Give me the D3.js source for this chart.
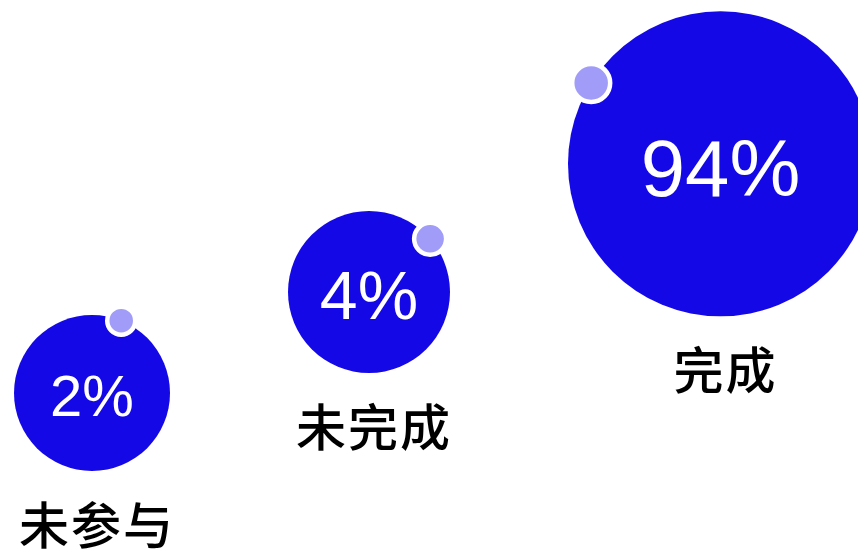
<!DOCTYPE html>
<html>
<head>
<meta charset="utf-8">
<script src="https://cdn.jsdelivr.net/npm/d3@7"></script>
<style>
  html, body { margin: 0; padding: 0; background: #fff; overflow: hidden; }
  .pct { font-family: "Liberation Sans", Arial, sans-serif; fill: #fff; text-anchor: middle; }
  .label { font-family: "Noto Sans CJK SC", sans-serif; font-weight: 500; fill: #000; text-anchor: middle; letter-spacing: 2px; }
</style>
</head>
<body>
<div id="chart"></div>
<script>
var categories = ["未参与", "未完成", "完成"];
var values = [2, 4, 94];
var badgeAngles = [22, 49, -58]; // degrees, clockwise from 12 o'clock

var width = 858,
    height = 558,
    gap = 118,
    left = 14;

// bubble size, percent font and badge size all follow the value
var r = d3.scaleLinear().domain([0, 10, 100]).range([75, 90, 157]);
var fontSize = d3.scaleLinear().domain([0, 4, 100]).range([48, 68, 80.5]);
var badgeR = d3.scaleLinear().domain([0, 4, 100]).range([12, 16, 19.2]);

// lay the bubbles out in a row, edge to edge with a fixed gap
var nodes = [], x = left;
values.forEach(function(v, i) {
  var rr = r(v);
  nodes.push({ name: categories[i], value: v, r: rr, cx: x + rr, angle: badgeAngles[i] });
  x += rr * 2 + gap;
});

// centres climb along a line
var y = d3.scaleLinear().domain([92, 720]).range([393, 164]);
nodes.forEach(function(d) { d.cy = y(d.cx); });

var svg = d3.select("#chart").append("svg")
    .attr("width", width)
    .attr("height", height);

var g = svg.selectAll("g.bubble")
    .data(nodes)
  .enter().append("g")
    .attr("class", "bubble")
    .attr("transform", function(d) { return "translate(" + d.cx + "," + d.cy + ")"; });

g.append("circle")
    .attr("r", function(d) { return d.r; })
    .attr("fill", "#1408e6");

g.append("circle")
    .attr("cx", function(d) { return d.r * Math.sin(d.angle * Math.PI / 180); })
    .attr("cy", function(d) { return -d.r * Math.cos(d.angle * Math.PI / 180); })
    .attr("r", function(d) { return badgeR(d.value); })
    .attr("fill", "#a09cf8")
    .attr("stroke", "#fff")
    .attr("stroke-width", 4.5);

g.append("text")
    .attr("class", "pct")
    .attr("y", function(d) { return fontSize(d.value) * 0.4; })
    .style("font-size", function(d) { return fontSize(d.value) + "px"; })
    .text(function(d) { return d.value + "%"; });

// labels sit a little right of centre, as in the original
g.append("text")
    .attr("class", "label")
    .attr("x", 5)
    .attr("y", function(d) { return d.r + 56; })
    .attr("dy", "0.34em")
    .style("font-size", "50px")
    .text(function(d) { return d.name; });
</script>
</body>
</html>
